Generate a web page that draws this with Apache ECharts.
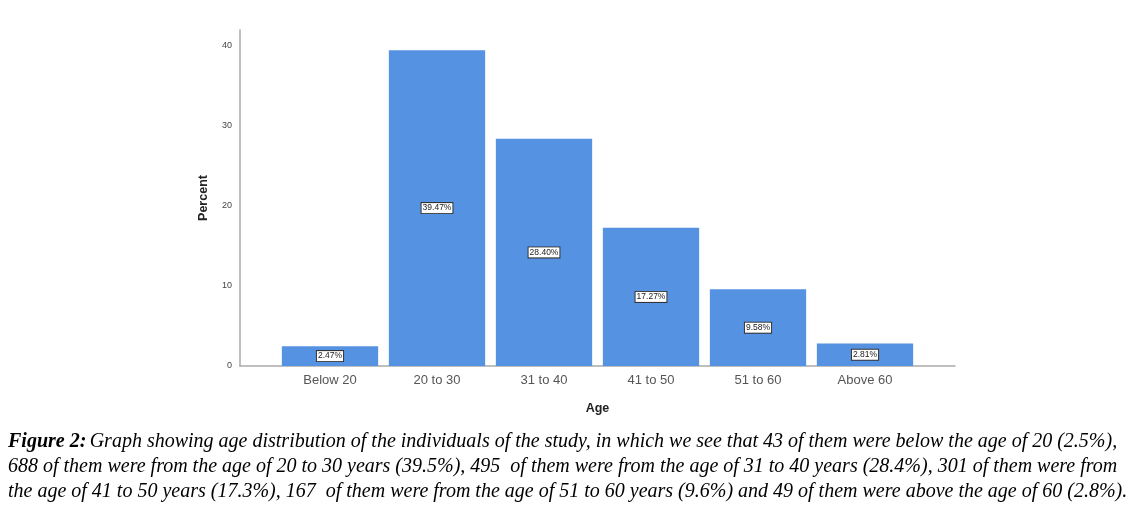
<!DOCTYPE html>
<html>
<head>
<meta charset="utf-8">
<script src="https://cdn.jsdelivr.net/npm/echarts@6/dist/echarts.min.js"></script>
<style>html,body{margin:0;padding:0;background:#fff;}#c{width:1133px;height:510px;}</style>
</head>
<body>
<div id="c"></div>
<script>
const categories = ['Below 20', '20 to 30', '31 to 40', '41 to 50', '51 to 60', 'Above 60'];
const percentValues = [2.47, 39.47, 28.40, 17.27, 9.58, 2.81];
const yTicks = [0, 10, 20, 30, 40];
const captionLines = [
  'Graph showing age distribution of the individuals of the study, in which we see that 43 of them were below the age of 20 (2.5%),',
  '688 of them were from the age of 20 to 30 years (39.5%), 495  of them were from the age of 31 to 40 years (28.4%), 301 of them were from',
  'the age of 41 to 50 years (17.3%), 167  of them were from the age of 51 to 60 years (9.6%) and 49 of them were above the age of 60 (2.8%).'
];

const chart = echarts.init(document.getElementById('c'));
chart.setOption({
  animation: false,
  grid: [
    {left: 276.5, right: 214.5, top: 30, bottom: 144},
    {left: 240, right: 178, top: 30, bottom: 144}
  ],
  xAxis: [
    {
      type: 'category', data: categories, gridIndex: 0,
      axisLine: {show: false}, axisTick: {show: false},
      axisLabel: {color: '#555', fontSize: 13, fontFamily: 'Liberation Sans, Arial', margin: 8}
    },
    {
      type: 'value', gridIndex: 1, min: 0, max: 1,
      axisLine: {show: true, lineStyle: {color: '#aaa', width: 1.5}},
      axisTick: {show: false}, axisLabel: {show: false}, splitLine: {show: false},
      name: 'Age', nameLocation: 'middle', nameGap: 36,
      nameTextStyle: {fontWeight: 'bold', fontSize: 12.5, color: '#222', fontFamily: 'Liberation Sans, Arial'}
    }
  ],
  yAxis: [
    {
      type: 'value', gridIndex: 0, min: 0, max: 42, interval: 10, offset: 36.5,
      axisLine: {show: true, lineStyle: {color: '#aaa', width: 1.5}},
      axisTick: {show: false}, splitLine: {show: false},
      axisLabel: {
        color: '#444', fontSize: 9, fontFamily: 'Liberation Sans, Arial', margin: 8,
        formatter: v => yTicks.includes(v) ? String(v) : ''
      },
      name: 'Percent', nameLocation: 'middle', nameGap: 30, nameRotate: 90,
      nameTextStyle: {fontWeight: 'bold', fontSize: 12.5, color: '#222', fontFamily: 'Liberation Sans, Arial'}
    },
    {type: 'value', gridIndex: 1, show: false, min: 0, max: 1}
  ],
  series: [{
    type: 'bar', data: percentValues, xAxisIndex: 0, yAxisIndex: 0,
    barCategoryGap: '10%',
    itemStyle: {color: '#5592E2'},
    label: {
      show: true, position: 'inside',
      formatter: p => p.value.toFixed(2) + '%',
      color: '#222', fontSize: 8.5, fontFamily: 'Liberation Sans, Arial',
      backgroundColor: '#fff', borderColor: '#333', borderWidth: 1,
      padding: [1, 1, 0, 1]
    }
  }],
  graphic: [{
    type: 'text', left: 8, top: 432,
    style: {
      text: '{b|Figure 2:} {i|' + captionLines[0] + '}\n{i|' + captionLines[1] + '}\n{i|' + captionLines[2] + '}',
      rich: {
        b: {fontFamily: 'Liberation Serif', fontStyle: 'italic', fontWeight: 'bold', fontSize: 20, fill: '#000', lineHeight: 25},
        i: {fontFamily: 'Liberation Serif', fontStyle: 'italic', fontSize: 20, fill: '#000', lineHeight: 25}
      }
    }
  }]
});
</script>
</body>
</html>
